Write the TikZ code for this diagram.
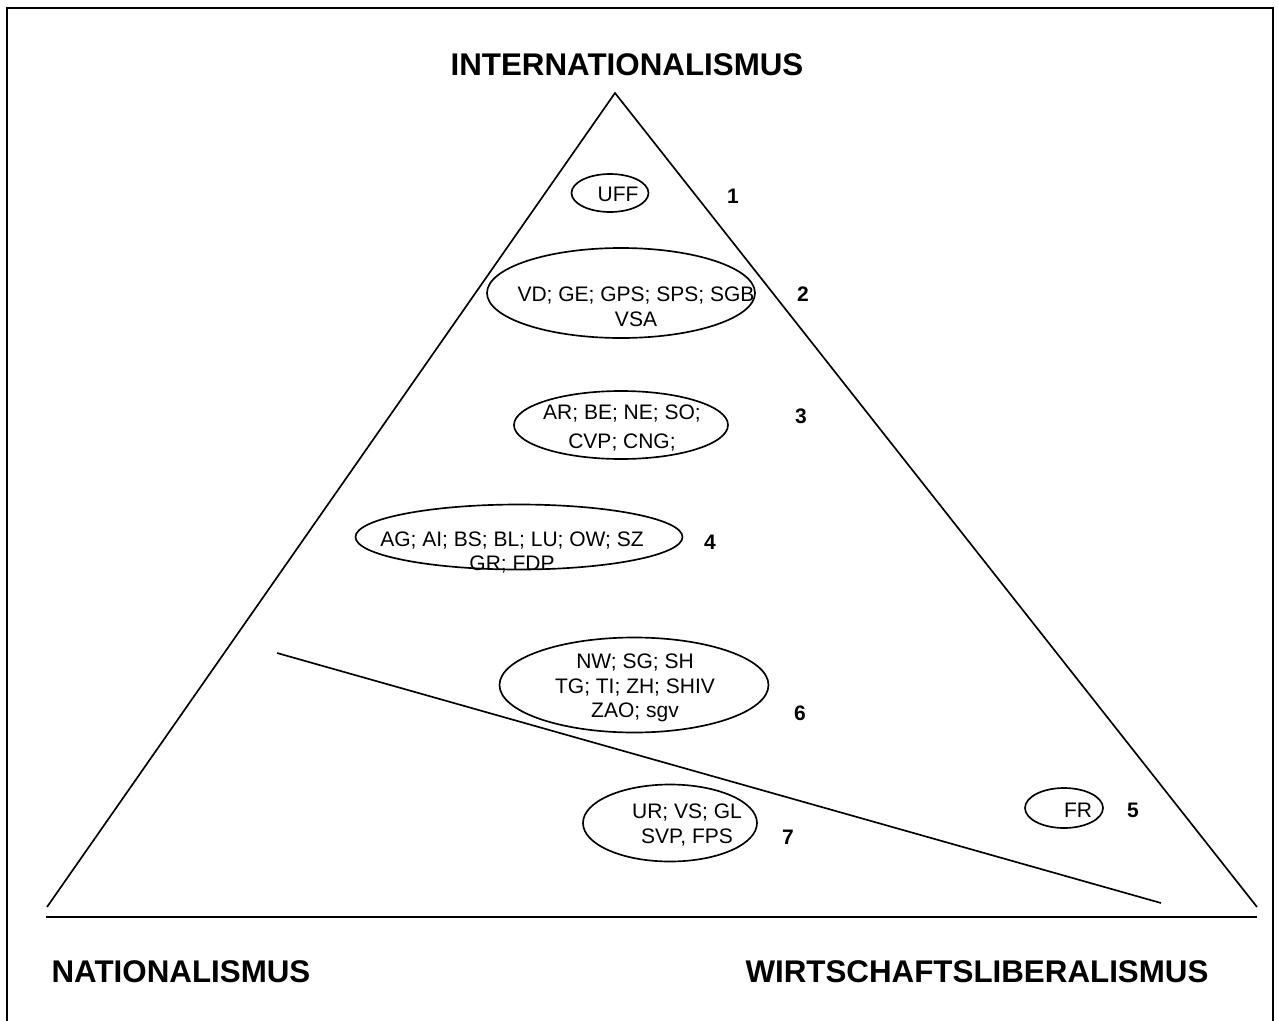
\documentclass[tikz,border=0pt]{standalone}
\usepackage{fontspec}
\setmainfont{Liberation Sans}
\usetikzlibrary{shapes.geometric}
\begin{document}
\begin{tikzpicture}[x=0.75pt,y=-0.75pt,
  ell/.style 2 args={ellipse,draw,line width=1.25pt,inner sep=0pt,minimum width=#1*0.75pt,minimum height=#2*0.75pt},
  txt/.style={inner sep=0pt,align=center,font=\fontsize{15.75pt}{18.5pt}\selectfont},
  num/.style={inner sep=0pt,font=\fontsize{15.75pt}{18.5pt}\selectfont\bfseries},
  title/.style={inner sep=0pt,font=\fontsize{23.5pt}{28pt}\selectfont\bfseries},
  thin/.style={line width=1.25pt}]
\useasboundingbox (0,0) rectangle (1279,1021);
% frame
\draw[line width=1.6pt] (7,1030) -- (7,8) -- (1273,8) -- (1273,1030);
% triangle
\coordinate (apex) at (615,93);
\coordinate (bl) at (47,907);
\coordinate (br) at (1257,907);
\draw[thin] (bl) -- (apex) -- (br);
% base line
\coordinate (h1) at (46,917);
\coordinate (h2) at (1257,917);
\draw[line width=1.6pt] (h1) -- (h2);
% diagonal
\coordinate (d1) at (277,653);
\coordinate (d2) at (1161,903);
\draw[thin] (d1) -- (d2);
% titles
\node[title] (tint) at (627,65) {INTERNATIONALISMUS};
\node[title] (tnat) at (181,972) {NATIONALISMUS};
\node[title] (twir) at (977,972) {WIRTSCHAFTSLIBERALISMUS};
% ellipses
\node[ell={77}{38}] (e1) at (610,193) {};
\node[ell={268}{90}] (e2) at (621,293) {};
\node[ell={214}{68}] (e3) at (621,425) {};
\node[ell={327}{65}] (e4) at (519,537) {};
\node[ell={269}{95}] (e6) at (634,685) {};
\node[ell={174}{77}] (e7) at (670,823) {};
\node[ell={78}{40}] (e5) at (1064,808) {};
% texts
\node[txt] (t1) at (618,194) {UFF};
\node[txt] (t2) at (636,307) {VD; GE; GPS; SPS; SGB\\VSA};
\node[txt,font=\fontsize{15.75pt}{22pt}\selectfont] (t3) at (622,428) {AR; BE; NE; SO;\\CVP; CNG;};
\node[txt,font=\fontsize{15.75pt}{18pt}\selectfont] (t4) at (512,553) {AG; AI; BS; BL; LU; OW; SZ\\GR; FDP};
\node[txt] (t6) at (635,688) {NW; SG; SH\\TG; TI; ZH; SHIV\\ZAO; sgv};
\node[txt] (t7) at (687,825) {UR; VS; GL\\SVP, FPS};
\node[txt] (t5) at (1078,810) {FR};
% numbers
\node[num] (n1) at (733,196) {1};
\node[num] (n2) at (803,294) {2};
\node[num] (n3) at (801,416) {3};
\node[num] (n4) at (710,542) {4};
\node[num] (n5) at (1133,810) {5};
\node[num] (n6) at (800,713) {6};
\node[num] (n7) at (788,837) {7};
\end{tikzpicture}
\end{document}
